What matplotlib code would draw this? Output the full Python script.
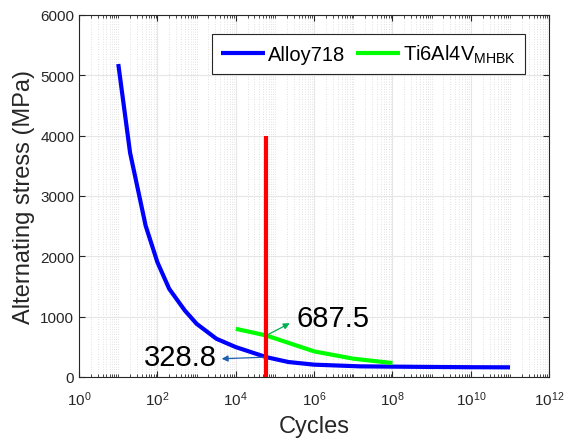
import numpy as np
import matplotlib
matplotlib.use('Agg')
from matplotlib import pyplot as plt
from matplotlib import ticker

plt.rcParams['font.family'] = ['Liberation Sans', 'DejaVu Sans']
plt.rcParams['mathtext.fontset'] = 'custom'
plt.rcParams['mathtext.rm'] = 'Liberation Sans'

# Alloy718 S-N curve
alloy_cycles = [1e1, 2e1, 5e1, 1e2, 2e2, 5e2, 1e3, 3.2e3, 1e4, 6e4, 2.2e5, 1e6, 1.5e7, 1.2e8, 1e9, 1e10, 1e11]
alloy_stress = [5185, 3716, 2505, 1899, 1459, 1101, 881, 633, 495, 328.8, 248, 204, 176, 171, 166, 162, 160]

# Ti6Al4V (MHBK) S-N curve
ti_cycles = [1e4, 6e4, 1e5, 1e6, 1e7, 1e8]
ti_stress = [798, 687.5, 640, 424, 303, 231]

# design life marker
life_cycles = 6e4
life_stress = [0, 4000]

fig = plt.figure(figsize=(5.65, 4.39), dpi=100)
ax = fig.add_axes([0.14, 0.139, 0.832, 0.825])

ax.plot(alloy_cycles, alloy_stress, color='#0000ff', lw=3, label='Alloy718', solid_capstyle='butt')
ax.plot(ti_cycles, ti_stress, color='#00ff00', lw=3, label=r'Ti6Al4V$_{\mathregular{MHBK}}$', solid_capstyle='butt')
ax.plot([life_cycles, life_cycles], life_stress, color='#ff0000', lw=3, solid_capstyle='butt')

ax.set_xscale('log')
ax.set_xlim(1e0, 1e12)
ax.set_ylim(0, 6000)
ax.set_xticks([10.0 ** k for k in range(0, 13, 2)])
ax.xaxis.set_minor_locator(ticker.LogLocator(base=10, subs=np.arange(1, 10), numticks=40))
ax.xaxis.set_minor_formatter(ticker.NullFormatter())
ax.set_yticks(range(0, 6001, 1000))

ax.grid(True, which='major', color='#e6e6e6', lw=0.8, ls='-')
ax.grid(True, which='minor', axis='x', color='#d8d8d8', lw=0.6, ls=(0, (1, 2)))
ax.set_axisbelow(True)

ax.tick_params(which='both', direction='in', top=True, right=True, colors='#262626', labelsize=11)
ax.tick_params(axis='x', which='major', pad=9)
ax.tick_params(which='major', length=4)
ax.tick_params(which='minor', length=2)
for s in ax.spines.values():
    s.set_color('#262626')
    s.set_linewidth(0.8)

ax.set_xlabel('Cycles', fontsize=17, color='#262626', labelpad=5)
ax.set_ylabel('Alternating stress (MPa)', fontsize=17, color='#262626', labelpad=4)

ax.annotate('', xy=(3.7e3, 300), xytext=(life_cycles, 328.8),
            arrowprops=dict(arrowstyle='-|>', color='#1f5fb0', lw=0.9, mutation_scale=9))
ax.text(3.2e3, 331, '328.8', fontsize=21, ha='right', va='center', color='black')

ax.annotate('', xy=(2.75e5, 911), xytext=(life_cycles, 687.5),
            arrowprops=dict(arrowstyle='-|>', color='#00b050', lw=0.9, mutation_scale=9))
ax.text(3.6e5, 978, '687.5', fontsize=21, ha='left', va='center', color='black')

leg = ax.legend(loc='upper right', bbox_to_anchor=(0.949, 0.9475), ncol=2, fontsize=14.5,
                frameon=True, fancybox=False, edgecolor='#262626', handlelength=2.2,
                columnspacing=0.5, handletextpad=0.15, borderpad=0.45, borderaxespad=0,
                framealpha=1)
leg.get_frame().set_linewidth(0.8)

fig.savefig('out.png', dpi=100)
